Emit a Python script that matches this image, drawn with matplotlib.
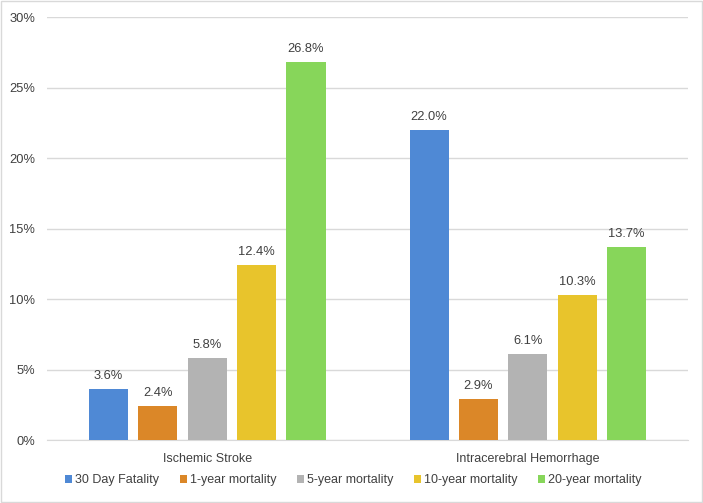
import matplotlib
matplotlib.use("Agg")
import matplotlib.pyplot as plt
import numpy as np
from matplotlib.patches import Rectangle

categories = ["Ischemic Stroke", "Intracerebral Hemorrhage"]
series_names = ["30 Day Fatality", "1-year mortality", "5-year mortality",
                "10-year mortality", "20-year mortality"]
values = {
    "30 Day Fatality": [3.6, 22.0],
    "1-year mortality": [2.4, 2.9],
    "5-year mortality": [5.8, 6.1],
    "10-year mortality": [12.4, 10.3],
    "20-year mortality": [26.8, 13.7],
}
colors = ["#4F89D5", "#DB8728", "#B3B3B3", "#E8C42C", "#87D65A"]
yticks = [0, 5, 10, 15, 20, 25, 30]

FS = 9
plt.rcParams['font.family'] = ['Liberation Sans', 'DejaVu Sans']
fig = plt.figure(figsize=(7.03, 5.03), dpi=100)
ax = fig.add_axes([0.0669, 0.1252, 0.9118, 0.8408])

x = np.arange(len(categories))
step = 0.154
bw = 0.122
for i, name in enumerate(series_names):
    pos = x + (i - 2) * step
    bars = ax.bar(pos, values[name], width=bw, color=colors[i], label=name, zorder=3)
    for b, v in zip(bars, values[name]):
        ax.annotate(f"{v:.1f}%", (b.get_x() + b.get_width() / 2, v),
                    xytext=(0, 5), textcoords="offset points",
                    ha="center", va="bottom", fontsize=FS + 0.3, color="#404040")

ax.set_xlim(-0.5, 1.5)
ax.set_ylim(0, 30)
ax.set_yticks(yticks)
ax.set_yticklabels([f"{t}%" for t in yticks], fontsize=FS + 0.3, color="#404040")
ax.set_xticks(x)
ax.set_xticklabels(categories, fontsize=FS, color="#404040")
ax.tick_params(axis="x", length=0, pad=9)
ax.tick_params(axis="y", length=0, pad=8.5)
ax.grid(axis="y", color="#D9D9D9", linewidth=1, zorder=0)
for s in ["top", "right", "left"]:
    ax.spines[s].set_visible(False)
ax.spines["bottom"].set_color("#D9D9D9")

leg = fig.legend(loc="center", bbox_to_anchor=(0.503, 0.045), ncol=5, frameon=False,
                 fontsize=FS, handlelength=0.55, handleheight=0.55, handletextpad=0.25,
                 columnspacing=1.65)
for t in leg.get_texts():
    t.set_color("#404040")

fig.patches.append(Rectangle((0.002, 0.002), 0.996, 0.996, transform=fig.transFigure,
                             fill=False, edgecolor="#D9D9D9", linewidth=1))
fig.savefig("out.png", dpi=100)
